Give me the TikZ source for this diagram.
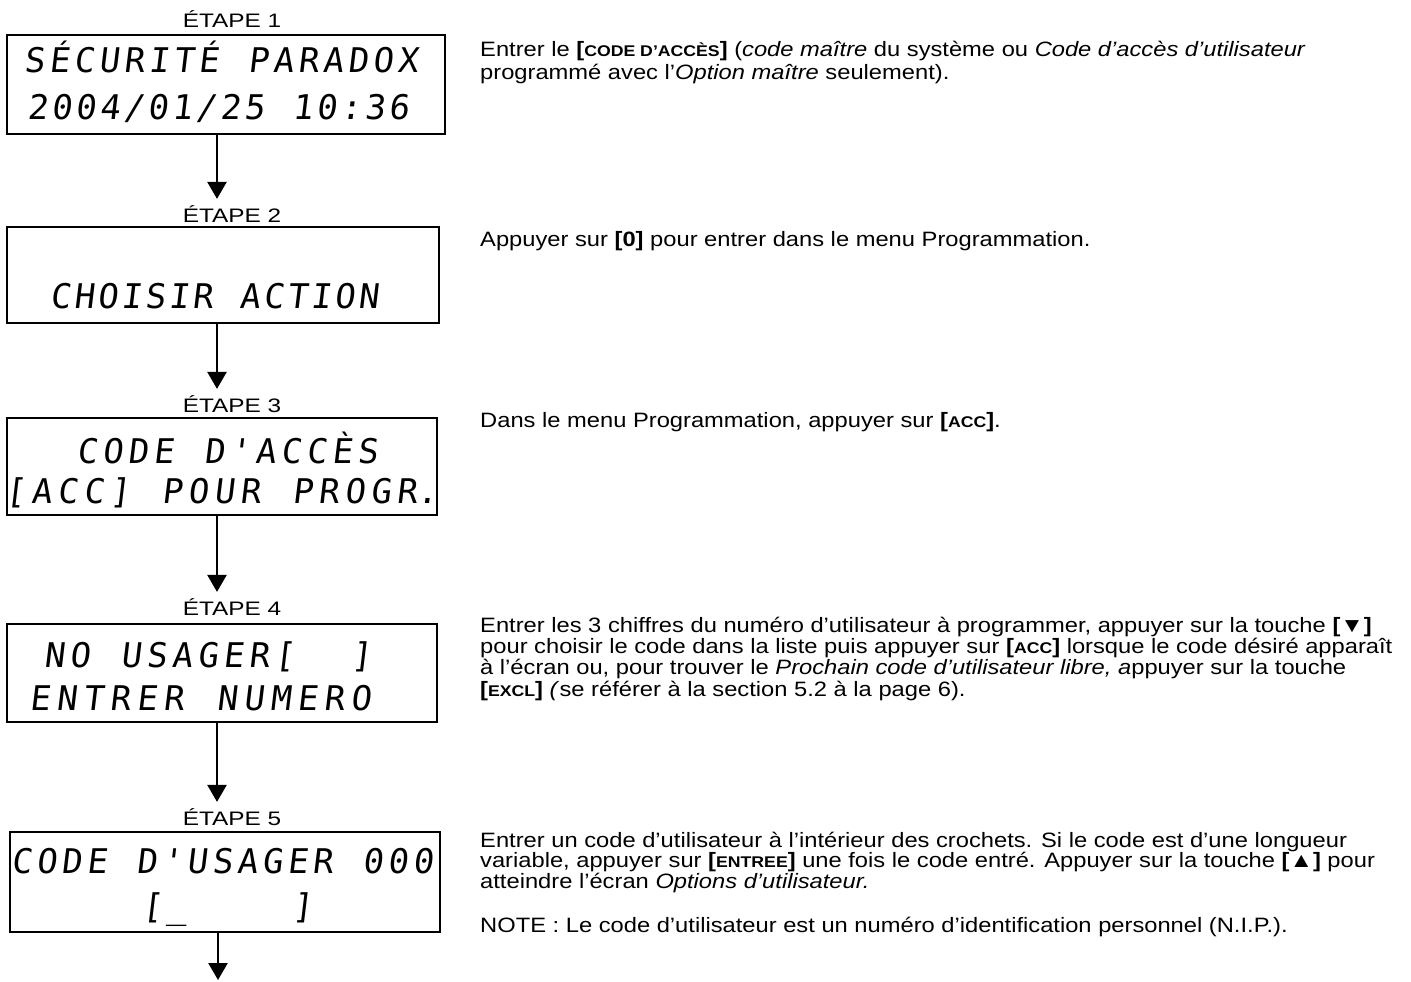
\documentclass[tikz,border=0pt]{standalone}
\usepackage{fontspec}
\usetikzlibrary{arrows.meta}
\setmainfont[FakeStretch=1.14]{Liberation Sans}
\newfontfamily\lcdfont[FakeSlant=0.12]{DejaVu Sans Mono}
\newfontfamily\stepfont[FakeStretch=1.25]{Liberation Sans}
\newlength\lcdpitch
\def\lcdend{LCDENDMARK}
\newcommand\lcd[2]{\setlength\lcdpitch{#1}\lcdloop#2\lcdend}
\def\lcdloop#1{\ifx\lcdend#1\else\makebox[\lcdpitch]{#1}\expandafter\lcdloop\fi}
\newcommand\kb[1]{\textbf{[}{\bfseries\fontsize{15.5}{15.5}\selectfont #1}\textbf{]}}
\tikzset{
  lcdbox/.style={draw, line width=2pt, inner sep=0pt},
  lcdline/.style={anchor=base west, inner sep=0pt, font=\lcdfont\fontsize{34}{34}\selectfont},
  steplabel/.style={anchor=base, inner sep=0pt, font=\stepfont\fontsize{19.5}{20}\selectfont},
  desc/.style={anchor=base west, inner sep=0pt, align=left, font=\fontsize{20.8}{21.3}\selectfont},
  arr/.style={line width=2.5pt, -{Triangle[length=17pt,width=19pt]}, shorten >=6pt},
}
\begin{document}
\begin{tikzpicture}[x=1pt,y=-1pt]
\useasboundingbox (0,0) rectangle (1411,982);
% labels
\node[steplabel] (l1) at (232,28) {ÉTAPE 1};
\node[steplabel] (l2) at (232,222) {ÉTAPE 2};
\node[steplabel] (l3) at (232,412) {ÉTAPE 3};
\node[steplabel] (l4) at (232,615) {ÉTAPE 4};
\node[steplabel] (l5) at (232,825) {ÉTAPE 5};
% boxes
\node[lcdbox, minimum width=438pt, minimum height=99pt] (b1) at (226,84.5) {};
\node[lcdbox, minimum width=432pt, minimum height=96pt] (b2) at (223,275) {};
\node[lcdbox, minimum width=430pt, minimum height=97pt] (b3) at (222,466.5) {};
\node[lcdbox, minimum width=430pt, minimum height=98pt] (b4) at (222,673) {};
\node[lcdbox, minimum width=430pt, minimum height=100pt] (b5) at (225,882) {};
% lcd text
\node[lcdline] (t11) at (21.5,73) {\lcd{24.9pt}{SÉCURITÉ~PARADOX}};
\node[lcdline] (t12) at (25,119) {\lcd{24.1pt}{2004/01/25~10:36}};
\node[lcdline] (t21) at (48,308) {\lcd{23.7pt}{CHOISIR~ACTION}};
\node[lcdline] (t31) at (74,463) {\lcd{25.5pt}{CODE~D'ACCÈS}};
\node[lcdline] (t32) at (2,503) {\lcd{26.1pt}{[ACC]~POUR~PROG{R\rlap{.}}}};
\node[lcdline] (t41) at (41,667) {\lcd{25.6pt}{NO~USAGER[~~]}};
\node[lcdline] (t42) at (26,710) {\lcd{26.75pt}{ENTRER~NUMERO}};
\node[lcdline] (t51) at (8.5,873) {\lcd{25.1pt}{CODE~D'USAGER~000}};
\node[lcdline] (t52) at (139.5,918) {\lcd{25pt}{[{\_}~~~~]}};
% arrows
\coordinate (ax) at (217,0);
\coordinate (end) at (218,980);
\draw[arr] (b1.south -| ax) -- (l2.north -| ax);
\draw[arr] (b2.south -| ax) -- (l3.north -| ax);
\draw[arr] (b3.south -| ax) -- (l4.north -| ax);
\draw[arr] (b4.south -| ax) -- (l5.north -| ax);
\draw[arr, shorten >=0pt] (b5.south -| end) -- (end);
% descriptions (base anchor = baseline of the last line)
\node[desc, font=\fontsize{20.8}{24}\selectfont] (d1) at (480,80) {Entrer le \kb{CODE D’ACCÈS} (\textit{code maître} du système ou \textit{Code d’accès d’utilisateur}\\programmé avec l’\textit{Option maître} seulement).};
\node[desc] (d2) at (480,246) {Appuyer sur \textbf{[0]} pour entrer dans le menu Programmation.};
\node[desc] (d3) at (480,427) {Dans le menu Programmation, appuyer sur \kb{ACC}.};
\node[desc] (d4) at (480,696) {Entrer les 3 chiffres du numéro d’utilisateur à programmer, appuyer sur la touche \textbf{[▼]}\\pour choisir le code dans la liste puis appuyer sur \kb{ACC} lorsque le code désiré apparaît\\à l’écran ou, pour trouver le \textit{Prochain code d’utilisateur libre, a}ppuyer sur la touche\\\kb{EXCL} \textit{(}se référer à la section 5.2 à la page 6).};
\node[desc, font=\fontsize{20.8}{20.5}\selectfont] (d5) at (480,888) {Entrer un code d’utilisateur à l’intérieur des crochets. Si le code est d’une longueur\\variable, appuyer sur \kb{ENTREE} une fois le code entré. Appuyer sur la touche \textbf{[▲]} pour\\atteindre l’écran \textit{Options d’utilisateur.}};
\node[desc] (note) at (480,932) {NOTE : Le code d’utilisateur est un numéro d’identification personnel (N.I.P.).};
\end{tikzpicture}
\end{document}
